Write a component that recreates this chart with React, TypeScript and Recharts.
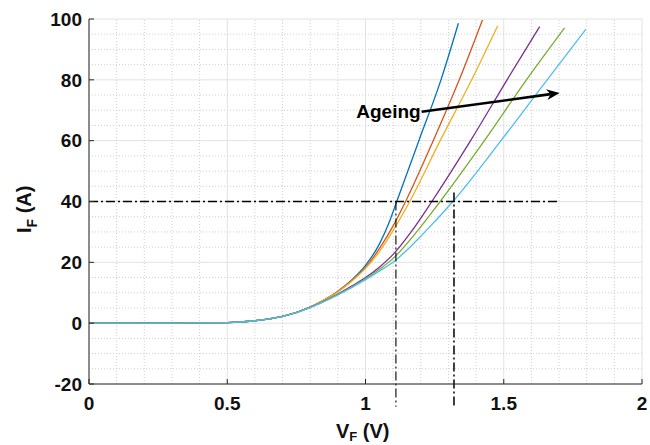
import React from 'react';
import {
  LineChart,
  Line,
  XAxis,
  YAxis,
  CartesianGrid,
  ReferenceLine,
  Customized,
} from 'recharts';

// shared flat part of every curve (below ~0.7 V)
const lowV = [0, 0.25, 0.5, 0.6, 0.7];
const lowI = [0, 0, 0.2, 0.8, 2.2];

// one V / I pair per ageing step
const blueV = [0.8, 0.85, 0.9, 0.95, 1.0, 1.05, 1.085, 1.113, 1.193, 1.273, 1.336];
const blueI = [5.3, 7.6, 10.5, 14.2, 19, 26, 33, 40, 60, 80, 98.6];
const orangeV = [0.8, 0.85, 0.9, 0.95, 1.0, 1.05, 1.1, 1.145, 1.245, 1.339, 1.423];
const orangeI = [5.3, 7.6, 10.4, 14, 18.3, 24.5, 32, 40, 60, 80, 99.7];
const yellowV = [0.8, 0.85, 0.9, 0.95, 1.0, 1.05, 1.1, 1.16, 1.27, 1.384, 1.478];
const yellowI = [5.3, 7.6, 10.3, 13.8, 18, 23.5, 30.5, 40, 60, 80, 97.7];
const purpleV = [0.8, 0.85, 0.9, 0.95, 1.0, 1.05, 1.1, 1.165, 1.24, 1.38, 1.512, 1.63];
const purpleI = [5.2, 7.3, 9.6, 12.2, 15, 18.4, 22.6, 30, 40, 60, 80, 97.5];
const greenV = [0.8, 0.85, 0.9, 0.95, 1.0, 1.05, 1.1, 1.185, 1.27, 1.43, 1.582, 1.72];
const greenI = [5.2, 7.2, 9.4, 11.9, 14.6, 17.7, 21.3, 30, 40, 60, 80, 97.1];
const cyanV = [0.8, 0.85, 0.9, 0.95, 1.0, 1.05, 1.11, 1.215, 1.316, 1.49, 1.657, 1.797];
const cyanI = [5.1, 7.1, 9.3, 11.7, 14.3, 17.1, 20.8, 30, 40, 60, 80, 96.6];

const xTicks = [0, 0.5, 1, 1.5, 2];
const yTicks = [-20, 0, 20, 40, 60, 80, 100];
const xMinor = [0.1, 0.2, 0.3, 0.4, 0.6, 0.7, 0.8, 0.9, 1.1, 1.2, 1.3, 1.4, 1.6, 1.7, 1.8, 1.9];
const yMinor = [-15, -10, -5, 5, 10, 15, 25, 30, 35, 45, 50, 55, 65, 70, 75, 85, 90, 95];

// dash-dot guides at 40 A
const guideI = 40;
const guideEndV = 1.7;
const guideV1 = 1.11;
const guideV2 = 1.32;

const build = (v: number[], i: number[]) =>
  [...lowV, ...v].map((x, k) => ({ v: x, i: [...lowI, ...i][k] }));

const series = [
  { name: 'blue', color: '#0072BD', data: build(blueV, blueI) },
  { name: 'orange', color: '#D95319', data: build(orangeV, orangeI) },
  { name: 'yellow', color: '#EDB120', data: build(yellowV, yellowI) },
  { name: 'purple', color: '#7E2F8E', data: build(purpleV, purpleI) },
  { name: 'green', color: '#77AC30', data: build(greenV, greenI) },
  { name: 'cyan', color: '#4DBEEE', data: build(cyanV, cyanI) },
];

const FONT = '"Liberation Sans", Arial, sans-serif';
const tickStyle = { fontFamily: FONT, fontWeight: 700, fontSize: 19, fill: '#111' };
const AXIS = '#262626';
const DASHDOT = '9 3 2 3';

const Arrow = (p: any) => {
  const { x1, y1, x2, y2 } = p;
  const ang = Math.atan2(y2 - y1, x2 - x1);
  const len = 13;
  const half = 5.5;
  const bx = x2 - len * Math.cos(ang);
  const by = y2 - len * Math.sin(ang);
  const nx = -Math.sin(ang);
  const ny = Math.cos(ang);
  const notchX = x2 - len * 0.7 * Math.cos(ang);
  const notchY = y2 - len * 0.7 * Math.sin(ang);
  return (
    <g>
      <line x1={x1} y1={y1} x2={notchX} y2={notchY} stroke="#000" strokeWidth={2.6} />
      <polygon
        points={`${x2},${y2} ${bx + nx * half},${by + ny * half} ${notchX},${notchY} ${bx - nx * half},${by - ny * half}`}
        fill="#000"
      />
      <text x={x1 - 1} y={y1 + 6} textAnchor="end" fontFamily={FONT} fontWeight={700} fontSize={19} fill="#000">
        Ageing
      </text>
    </g>
  );
};

const Titles = () => (
  <g fontFamily={FONT} fontWeight={700} fill="#111">
    <text transform="translate(31,233) rotate(-90)" fontSize={20}>
      <tspan>I</tspan>
      <tspan fontSize={14} dy={6}>F</tspan>
      <tspan dy={-6}> (A)</tspan>
    </text>
    <text x={336} y={438} fontSize={20}>
      <tspan>V</tspan>
      <tspan fontSize={13} dy={3}>F</tspan>
      <tspan dy={-3}> (V)</tspan>
    </text>
  </g>
);

export default function App() {
  return (
    <div style={{ position: 'absolute', left: 0, top: 0, background: '#fff' }}>
      <LineChart width={650} height={445} margin={{ top: 19, right: 8, bottom: 0, left: 0 }}>
        <CartesianGrid stroke="#e2e2e2" strokeWidth={1} />
        {xMinor.map((v) => (
          <ReferenceLine key={`xm${v}`} x={v} stroke="#cfcfcf" strokeDasharray="1 2" strokeWidth={1} />
        ))}
        {yMinor.map((v) => (
          <ReferenceLine key={`ym${v}`} y={v} stroke="#cfcfcf" strokeDasharray="1 2" strokeWidth={1} />
        ))}
        <XAxis
          dataKey="v"
          type="number"
          domain={[0, 2]}
          ticks={xTicks}
          allowDataOverflow
          height={61}
          tickSize={-5}
          tickMargin={17.5}
          stroke={AXIS}
          tick={tickStyle}
          tickFormatter={(v: number) => String(v)}
        />
        <XAxis
          xAxisId="top"
          orientation="top"
          type="number"
          domain={[0, 2]}
          ticks={xTicks}
          height={0}
          tickSize={-5}
          stroke={AXIS}
          tickFormatter={() => ''}
        />
        <YAxis
          dataKey="i"
          type="number"
          domain={[-20, 100]}
          ticks={yTicks}
          allowDataOverflow
          width={89}
          tickSize={-5}
          tickMargin={12}
          stroke={AXIS}
          tick={tickStyle}
        />
        <YAxis
          yAxisId="right"
          orientation="right"
          type="number"
          domain={[-20, 100]}
          ticks={yTicks}
          width={0}
          tickSize={-5}
          stroke={AXIS}
          tickFormatter={() => ''}
        />
        {series.map((s) => (
          <Line
            key={s.name}
            data={s.data}
            dataKey="i"
            type="monotone"
            stroke={s.color}
            strokeWidth={1.3}
            dot={false}
            isAnimationActive={false}
          />
        ))}
        <ReferenceLine
          segment={[{ x: 0, y: guideI }, { x: guideEndV, y: guideI }]}
          stroke="#000"
          strokeWidth={1.4}
          strokeDasharray={DASHDOT}
        />
        <ReferenceLine
          segment={[{ x: guideV1, y: guideI }, { x: guideV1, y: -27.5 }]}
          stroke="#000"
          strokeWidth={1.1}
          strokeDasharray={DASHDOT}
          ifOverflow="visible"
        />
        <ReferenceLine
          segment={[{ x: guideV2, y: 43 }, { x: guideV2, y: -27.5 }]}
          stroke="#000"
          strokeWidth={1.5}
          strokeDasharray={DASHDOT}
          ifOverflow="visible"
        />
        <ReferenceLine
          segment={[{ x: 1.203, y: 69.5 }, { x: 1.702, y: 75.7 }]}
          shape={Arrow}
          ifOverflow="visible"
        />
        <Customized component={Titles} />
      </LineChart>
    </div>
  );
}
